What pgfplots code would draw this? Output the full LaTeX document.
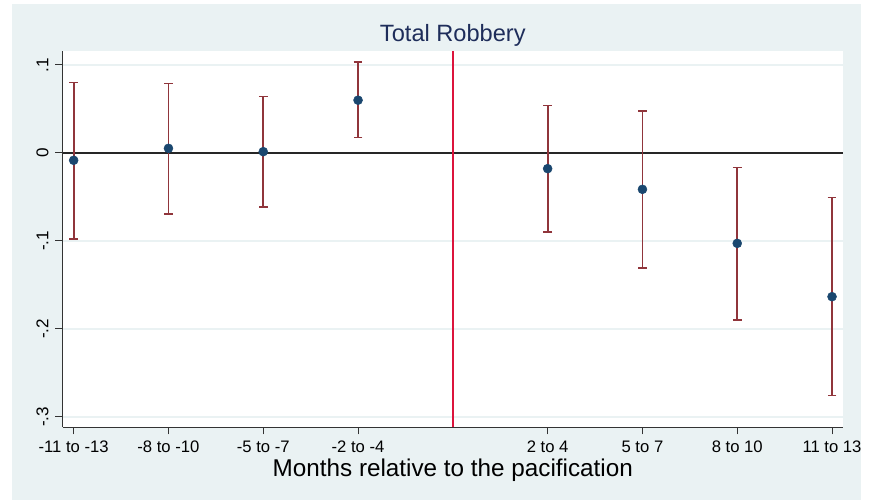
\documentclass[border=0pt]{standalone}
\usepackage{pgfplots}
\usepackage{pgfplotstable}
\pgfplotsset{compat=1.18}
\usepackage{fontspec}
\setmainfont{Liberation Sans}
\definecolor{bgc}{RGB}{234,242,243}
\definecolor{navyc}{RGB}{26,71,111}
\definecolor{maroonc}{RGB}{144,53,59}
\definecolor{crimsonc}{RGB}{220,20,60}
\definecolor{titlec}{RGB}{30,45,90}
\pgfplotstableread{
x c lo hi
0 -0.0083 -0.0980 0.0803
1 0.0053 -0.0690 0.0790
2 0.0015 -0.0614 0.0640
3 0.0600 0.0174 0.1031
5 -0.0178 -0.0900 0.0540
6 -0.0413 -0.1307 0.0480
7 -0.1027 -0.1898 -0.0166
8 -0.1633 -0.2758 -0.0504
}\datatab
\begin{document}
\begin{tikzpicture}
\useasboundingbox (-47pt,-55.5pt) rectangle (610pt,320.25pt);
\fill[white] (-47pt,-55.5pt) rectangle (610pt,320.25pt);
\fill[bgc] (-38pt,-54.75pt) rectangle (598.7pt,317.25pt);
\begin{axis}[
  at={(0,0)}, anchor=south west,
  scale only axis, width=585.2pt, height=282pt,
  xmin=-0.116, xmax=8.115, ymin=-0.3114, ymax=0.1159,
  axis lines*=left,
  axis line style={draw=black!80, line width=0.75pt},
  axis background/.style={fill=white},
  tick align=outside, major tick length=5.5pt,
  tick style={draw=black!80, line width=0.75pt},
  xtick={0,1,2,3,5,6,7,8},
  xticklabels={-11 to -13,-8 to -10,-5 to -7,-2 to -4,2 to 4,5 to 7,8 to 10,11 to 13},
  ytick={-0.3,-0.2,-0.1,0,0.1},
  yticklabels={-.3,-.2,-.1,0,.1},
  ymajorgrids, grid style={bgc, line width=1pt},
  xticklabel style={font=\fontsize{12.5}{14}\selectfont, anchor=base, yshift=-13.5pt},
  yticklabel style={font=\fontsize{12.8}{14}\selectfont, xshift=-5.3pt, rotate=90, anchor=base},
  title={Total Robbery},
  title style={at={(0.5,1)}, anchor=base, yshift=1pt, font=\fontsize{17.7}{20}\selectfont, text=titlec},
  xlabel={Months relative to the pacification},
  xlabel style={at={(0.5,0)}, anchor=base, yshift=-36.75pt, font=\fontsize{18.2}{20}\selectfont},
]
\draw[black!85, line width=1.1pt] ({rel axis cs:0,0}|-{axis cs:0,0}) -- ({rel axis cs:1,0}|-{axis cs:0,0});
\draw[crimsonc, line width=1pt] ({axis cs:4,0}|-{rel axis cs:0,0}) -- ({axis cs:4,0}|-{rel axis cs:0,1});
\addplot[maroonc, only marks, mark=none, forget plot,
  error bars/.cd, y dir=both, y explicit,
  error bar style={draw=maroonc, line width=1.35pt, solid},
  error mark options={draw=maroonc, line width=1.2pt, mark size=3.3pt, rotate=90}]
  table[x=x, y=c, y error plus expr=\thisrow{hi}-\thisrow{c}, y error minus expr=\thisrow{c}-\thisrow{lo}] {\datatab};
\addplot[only marks, mark=*, mark size=3.35pt, mark options={fill=navyc, draw=navyc}]
  table[x=x, y=c] {\datatab};
\end{axis}
\end{tikzpicture}
\end{document}
